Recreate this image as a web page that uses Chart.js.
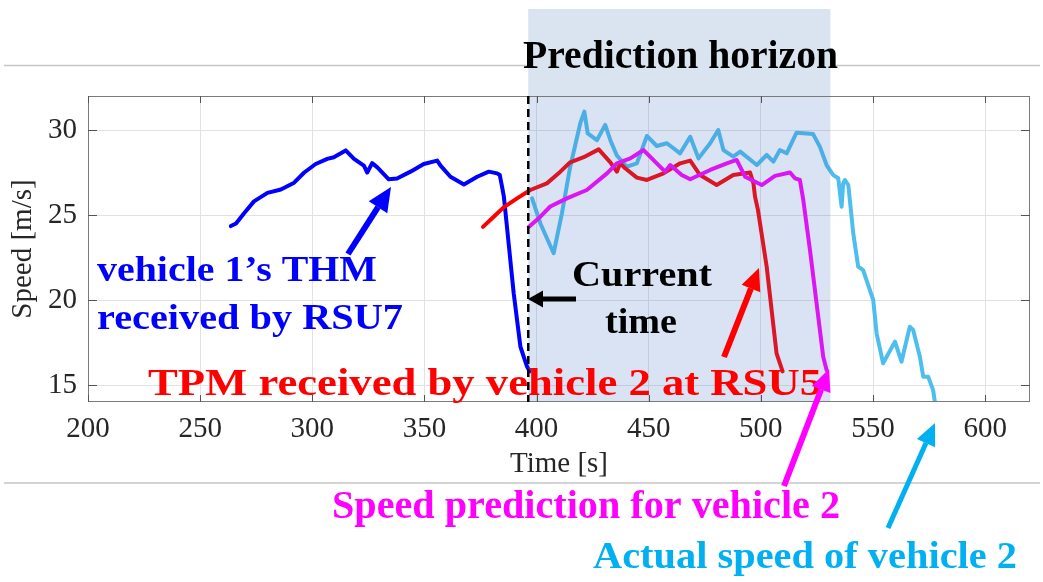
<!DOCTYPE html>
<html><head><meta charset="utf-8">
<script src="https://cdn.jsdelivr.net/npm/chart.js@4"></script>
<style>html,body{margin:0;padding:0;background:#fff;}canvas{display:block;}</style>
</head><body>
<canvas id="c" width="1043" height="582"></canvas>
<script>
// ---- data ----
const xTicks = [200, 250, 300, 350, 400, 450, 500, 550, 600];
const yTicks = [15, 20, 25, 30];

const thmTime  = [263.7, 266, 269.6, 274, 280, 286, 291.9, 296.4, 301.5, 306.7, 309.6, 314.9, 318.6, 323, 324.5, 326.7, 329, 334.1, 337.8, 343.8, 349.7, 355.7, 357.2, 361.6, 367.6, 373.5, 378.7, 382.4, 383.6, 384.6, 385.4, 386.8, 389.8, 392.8, 395.7, 396.9];
const thmSpeed = [24.35, 24.5, 25.1, 25.8, 26.3, 26.5, 26.9, 27.5, 28.0, 28.3, 28.4, 28.8, 28.3, 27.9, 27.5, 28.05, 27.8, 27.1, 27.15, 27.55, 28.0, 28.2, 27.9, 27.25, 26.8, 27.25, 27.55, 27.45, 27.35, 26.67, 26.1, 24.3, 20.4, 17.25, 16.1, 15.8];

const tpmTime  = [376.1, 380.9, 385.3, 391.3, 397.2, 404.6, 410.6, 415, 421, 427.7, 432.9, 435.8, 437.3, 439.5, 444.7, 449.2, 456.6, 464, 468.5, 472.9, 480.3, 487.7, 495.2, 496.7, 497.4, 498.7, 502.6, 507, 509.7];
const tpmSpeed = [24.3, 24.9, 25.45, 25.98, 26.47, 26.86, 27.55, 28.1, 28.4, 28.86, 28.1, 27.55, 28.04, 27.75, 27.2, 27.06, 27.45, 28.04, 28.2, 27.35, 26.76, 27.35, 27.5, 26.86, 26.08, 25.3, 21.96, 16.86, 15.8];

const predTime  = [396.5, 401.7, 406.1, 413.5, 422.4, 431.4, 435.8, 441.8, 447.7, 453.6, 457.3, 459.6, 464.7, 468.5, 477.4, 484.8, 489.2, 493, 500.4, 506.3, 513, 515.2, 517.4, 518.9, 521.9, 525.6, 527.8, 529.3];
const predSpeed = [24.3, 24.9, 25.5, 25.98, 26.47, 27.45, 28.04, 28.33, 28.82, 28.04, 27.55, 27.94, 27.35, 27.1, 27.65, 28.04, 28.24, 27.25, 26.76, 27.3, 27.5, 27.16, 27.06, 25.9, 22.94, 19.0, 16.66, 15.88];

const actTime  = [398, 401.7, 407.6, 411.3, 415, 419.5, 421.3, 422.8, 426.9, 430.6, 432.9, 435.8, 440.3, 444.7, 449.2, 453.6, 458.1, 464, 468.5, 472.2, 477.4, 481, 483.3, 487.7, 490.8, 498.2, 502.6, 505.6, 508.5, 511.5, 515.9, 523.3, 526.3, 529.3, 532.3, 534.5, 536, 536.7, 537.5, 539, 541.2, 543.4, 545.6, 550.1, 551.6, 554.5, 559.8, 562.7, 566.4, 567.9, 570.9, 572.4, 574.6, 576.8, 577.6];
const actSpeed = [25.98, 24.5, 22.75, 25.1, 27.84, 30.4, 31.08, 29.8, 29.4, 30.3, 29.4, 28.5, 27.84, 28.04, 29.65, 29.06, 29.22, 28.63, 29.6, 28.33, 29.22, 30.0, 28.82, 28.43, 28.73, 27.94, 28.53, 28.14, 28.82, 28.63, 29.84, 29.76, 29.02, 27.94, 27.35, 27.16, 25.49, 26.86, 27.06, 26.76, 23.92, 21.96, 21.76, 20.0, 18.04, 16.28, 17.55, 16.37, 18.43, 18.24, 16.66, 15.49, 15.49, 14.7, 14.0];

const currentTime = 396.3;
const horizonEnd = 531;

const SERIF = '"Liberation Serif", "Times New Roman", serif';
const pts = (xs, ys) => xs.map((x, i) => ({x: x, y: ys[i]}));

// ---- plugins ----
const decor = {
  id: 'decor',
  beforeDraw(chart) {
    const ctx = chart.ctx;
    ctx.save();
    ctx.fillStyle = '#fff';
    ctx.fillRect(0, 0, chart.width, chart.height);
    ctx.strokeStyle = '#c6c6c6';
    ctx.lineWidth = 1.5;
    ctx.beginPath();
    ctx.moveTo(4, 65.5); ctx.lineTo(1040, 65.5);
    ctx.moveTo(4, 483); ctx.lineTo(1040, 483);
    ctx.stroke();
    ctx.restore();
  },
  afterDatasetsDraw(chart) {
    const ctx = chart.ctx, a = chart.chartArea, xs = chart.scales.x;
    const x0 = xs.getPixelForValue(currentTime), x1 = xs.getPixelForValue(horizonEnd);
    ctx.save();
    ctx.fillStyle = '#dae3f0';
    ctx.fillRect(x0, 9, x1 - x0, a.top - 9);
    ctx.fillStyle = 'rgba(68,114,196,0.2)';
    ctx.fillRect(x0, a.top, x1 - x0, a.bottom - a.top);
    ctx.restore();
  },
  afterDraw(chart) {
    const ctx = chart.ctx, a = chart.chartArea, xs = chart.scales.x, ys = chart.scales.y;
    ctx.save();
    // box
    ctx.strokeStyle = '#7a7a7a';
    ctx.lineWidth = 1;
    ctx.strokeRect(a.left + 0.5, a.top + 0.5, a.right - a.left - 1, a.bottom - a.top - 1);
    // inward ticks
    ctx.strokeStyle = '#555';
    ctx.beginPath();
    xTicks.forEach(v => {
      const p = Math.round(xs.getPixelForValue(v)) + 0.5;
      ctx.moveTo(p, a.bottom); ctx.lineTo(p, a.bottom - 7);
      ctx.moveTo(p, a.top); ctx.lineTo(p, a.top + 7);
    });
    yTicks.forEach(v => {
      const p = Math.round(ys.getPixelForValue(v)) + 0.5;
      ctx.moveTo(a.left, p); ctx.lineTo(a.left + 9, p);
      ctx.moveTo(a.right, p); ctx.lineTo(a.right - 9, p);
    });
    ctx.stroke();
    // current time dashed line
    const cx = xs.getPixelForValue(currentTime);
    ctx.strokeStyle = '#000';
    ctx.lineWidth = 2.5;
    ctx.setLineDash([8, 5]);
    ctx.beginPath();
    ctx.moveTo(cx, a.top); ctx.lineTo(cx, a.bottom);
    ctx.stroke();
    ctx.setLineDash([]);

    // annotation text (fit to measured widths)
    function txt(s, xl, xr, base, size, color) {
      ctx.font = 'bold ' + size + 'px ' + SERIF;
      const w = ctx.measureText(s).width;
      ctx.save();
      ctx.translate(xl, base);
      ctx.scale((xr - xl) / w, 1);
      ctx.fillStyle = color;
      ctx.textBaseline = 'alphabetic';
      ctx.textAlign = 'left';
      ctx.fillText(s, 0, 0);
      ctx.restore();
    }
    txt('Prediction horizon', 523, 838, 68, 39, '#000');
    txt('vehicle 1\u2019s THM', 97, 377, 281, 35, '#0000ff');
    txt('received by RSU7', 97, 403, 329, 35, '#0000ff');
    txt('Current', 572, 712, 286, 35, '#000');
    txt('time', 605, 677, 333, 35, '#000');
    txt('TPM received by vehicle 2 at RSU5', 148, 822, 395, 38, '#ff0000');
    txt('Speed prediction for vehicle 2', 332, 840, 518, 39, '#ff00ff');
    txt('Actual speed of vehicle 2', 593, 1017, 568, 38, '#00b0f0');

    function arrow(x1, y1, x2, y2, color, lw, hl, hw) {
      const ang = Math.atan2(y2 - y1, x2 - x1);
      const bx = x2 - hl * Math.cos(ang), by = y2 - hl * Math.sin(ang);
      ctx.strokeStyle = color; ctx.fillStyle = color;
      ctx.lineWidth = lw; ctx.lineCap = 'butt';
      ctx.beginPath(); ctx.moveTo(x1, y1); ctx.lineTo(bx, by); ctx.stroke();
      ctx.beginPath();
      ctx.moveTo(x2, y2);
      ctx.lineTo(bx + hw / 2 * Math.sin(ang), by - hw / 2 * Math.cos(ang));
      ctx.lineTo(bx - hw / 2 * Math.sin(ang), by + hw / 2 * Math.cos(ang));
      ctx.closePath(); ctx.fill();
    }
    arrow(348, 254, 391, 187, '#0000ff', 6, 24, 22);
    arrow(724, 357, 759, 268, '#ff0000', 6, 22, 20);
    arrow(784, 486, 829, 369, '#ff00ff', 6, 22, 20);
    arrow(888, 528, 935, 423, '#00b0f0', 5, 22, 20);
    arrow(576, 299, 528, 299, '#000', 5, 15, 17);
    ctx.restore();
  }
};

new Chart(document.getElementById('c'), {
  type: 'line',
  data: {
    datasets: [
      {label: 'Speed prediction for vehicle 2', data: pts(predTime, predSpeed), borderColor: '#ff00ff'},
      {label: 'TPM received by vehicle 2 at RSU5', data: pts(tpmTime, tpmSpeed), borderColor: '#ff0000'},
      {label: 'vehicle 1 THM received by RSU7', data: pts(thmTime, thmSpeed), borderColor: '#0000ff'},
      {label: 'Actual speed of vehicle 2', data: pts(actTime, actSpeed), borderColor: '#4dbeee'}
    ]
  },
  options: {
    responsive: false,
    animation: false,
    devicePixelRatio: 1,
    layout: {padding: {top: 96, right: 13, bottom: 0, left: 0}},
    plugins: {legend: {display: false}, tooltip: {enabled: false}},
    elements: {
      point: {radius: 0},
      line: {borderWidth: 4, tension: 0, borderJoinStyle: 'round', borderCapStyle: 'round', fill: false}
    },
    scales: {
      x: {
        type: 'linear', min: 200, max: 620,
        afterBuildTicks: s => { s.ticks = xTicks.map(v => ({value: v})); },
        afterFit: s => { s.height = 180; },
        grid: {color: '#e2e2e2', drawTicks: false},
        border: {display: false},
        ticks: {font: {family: SERIF, size: 29}, color: '#262626', padding: 10, maxRotation: 0, autoSkip: false},
        title: {display: true, text: 'Time [s]', font: {family: SERIF, size: 29}, color: '#262626', padding: {top: 0, bottom: 100}}
      },
      y: {
        type: 'linear', min: 14, max: 32,
        afterBuildTicks: s => { s.ticks = yTicks.map(v => ({value: v})); },
        afterFit: s => { s.width = 88; },
        grid: {color: '#e2e2e2', drawTicks: false},
        border: {display: false},
        ticks: {font: {family: SERIF, size: 29}, color: '#262626', padding: 11},
        title: {display: true, text: 'Speed [m/s]', font: {family: SERIF, size: 29}, color: '#262626', padding: {top: 6, bottom: 0}}
      }
    }
  },
  plugins: [decor]
});
</script>
</body></html>
